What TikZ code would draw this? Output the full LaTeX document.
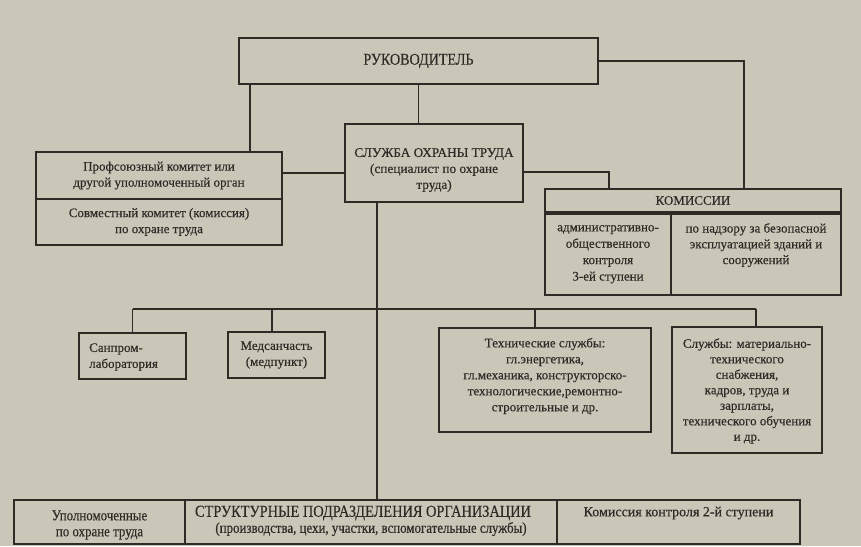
\documentclass[tikz,border=0pt]{standalone}
\usepackage{fontspec}
\setmainfont[FakeBold=0.3]{Liberation Serif}
\newfontfamily\condfont[FakeStretch=0.86,FakeBold=0.3]{Liberation Serif}
\definecolor{paper}{RGB}{202,198,184}
\definecolor{ink}{RGB}{46,42,38}
\begin{document}
\begin{tikzpicture}[x=1pt,y=-1pt,
  box/.style={draw=ink, line width=1.4pt, inner sep=0pt, text=ink, align=center, font=\fontsize{13}{16}\selectfont},
  txt/.style={inner sep=0pt, text=ink, align=center, font=\fontsize{13}{16}\selectfont},
  conn/.style={draw=ink, line width=1.3pt}]
\fill[paper] (0,0) rectangle (861,546);
\useasboundingbox (0,0) rectangle (861,546);

% boxes
\node[box, minimum width=359pt, minimum height=46pt] (ruk) at (418.5,61) {\condfont\fontsize{16.4}{18}\selectfont РУКОВОДИТЕЛЬ};
\node[box, minimum width=246pt, minimum height=47pt] (prof1) at (159,175.5) {Профсоюзный комитет или\\другой уполномоченный орган};
\node[box, minimum width=246pt, minimum height=46pt] (prof2) at (159,222) {Совместный комитет (комиссия)\\по охране труда};
\node[box, minimum width=178pt, minimum height=78pt] (sluzh) at (434,163) {};
\node[txt, font=\fontsize{13.3}{16}\selectfont] (sluzhT) at (434,170) {СЛУЖБА ОХРАНЫ ТРУДА\\(специалист по охране\\труда)};
\node[box, minimum width=296pt, minimum height=23pt] (komH) at (693,200.5) {КОМИССИИ};
\node[box, minimum width=126pt, minimum height=81pt] (komA) at (608,254.5) {};
\node[box, minimum width=170pt, minimum height=81pt] (komB) at (756,254.5) {};
\node[txt, anchor=north, font=\fontsize{13}{16.4}\selectfont] (komAt) at (608,225) {административно-\\общественного\\контроля\\3-ей ступени};
\node[txt, anchor=north, font=\fontsize{13}{15.8}\selectfont] (komBt) at (756,223) {по надзору за безопасной\\эксплуатацией зданий и\\сооружений};

\node[box, minimum width=107pt, minimum height=46pt] (sanprom) at (132.5,356) {};
\node[txt, anchor=west, align=left] (sanpromT) at (89,357) {Санпром-\\лаборатория};
\node[box, minimum width=97pt, minimum height=46pt] (med) at (276.5,355) {Медсанчасть\\(медпункт)};
\node[box, minimum width=212pt, minimum height=104pt] (tech) at (545,380) {};
\node[txt] (techT) at (545,376) {Технические службы:\\гл.энергетика,\\гл.механика, конструкторско-\\технологические,ремонтно-\\строительные и др.};
\node[box, minimum width=150pt, minimum height=126pt] (sluzhby) at (747,390) {};
\node[txt, font=\fontsize{13}{15.5}\selectfont] (sluzhbyT) at (747,391) {Службы: материально-\\технического\\снабжения,\\кадров, труда и\\зарплаты,\\технического обучения\\и др.};

\node[box, minimum width=171pt, minimum height=44pt] (b1) at (99.5,522) {};
\node[box, minimum width=372pt, minimum height=44pt] (b2) at (371,522) {};
\node[box, minimum width=243pt, minimum height=44pt] (b3) at (678.5,522) {};
\node[txt, font=\condfont\fontsize{15}{16}\selectfont] (b1T) at (99.5,525) {Уполномоченные\\по охране труда};
\node[txt, font=\condfont\fontsize{16.7}{17}\selectfont] (b2T) at (363,513) {СТРУКТУРНЫЕ ПОДРАЗДЕЛЕНИЯ ОРГАНИЗАЦИИ};
\node[txt, font=\condfont\fontsize{15}{15}\selectfont] (b2S) at (371,529) {(производства, цехи, участки, вспомогательные службы)};
\node[txt, font=\fontsize{14}{16}\selectfont] (b3T) at (678.5,513) {Комиссия контроля 2-й ступени};

% connectors
\coordinate (k1) at (744,189);
\draw[conn] (ruk.east) -| (k1);
\draw[conn] (ruk.south) -- (sluzh.north -| ruk.south);
\coordinate (p1) at (250,84);
\draw[conn] (p1) -- (p1 |- prof1.north);
\coordinate (pr) at (282,173);
\draw[conn] (pr) -- (pr -| sluzh.west);
\coordinate (s1) at (523,172);
\coordinate (k2) at (609,189);
\draw[conn] (s1) -| (k2);
\coordinate (s2) at (377,202);
\draw[conn] (s2) -- (s2 |- b2.north);

\coordinate (c1) at (132.5,309);
\coordinate (c2) at (272,309);
\coordinate (c3) at (535,309);
\coordinate (c4) at (756,309);
\draw[conn] (c1) -- (c4);
\draw[conn] (c1) -- (c1 |- sanprom.north);
\draw[conn] (c2) -- (c2 |- med.north);
\draw[conn] (c3) -- (c3 |- tech.north);
\draw[conn] (c4) -- (c4 |- sluzhby.north);
\end{tikzpicture}
\end{document}
